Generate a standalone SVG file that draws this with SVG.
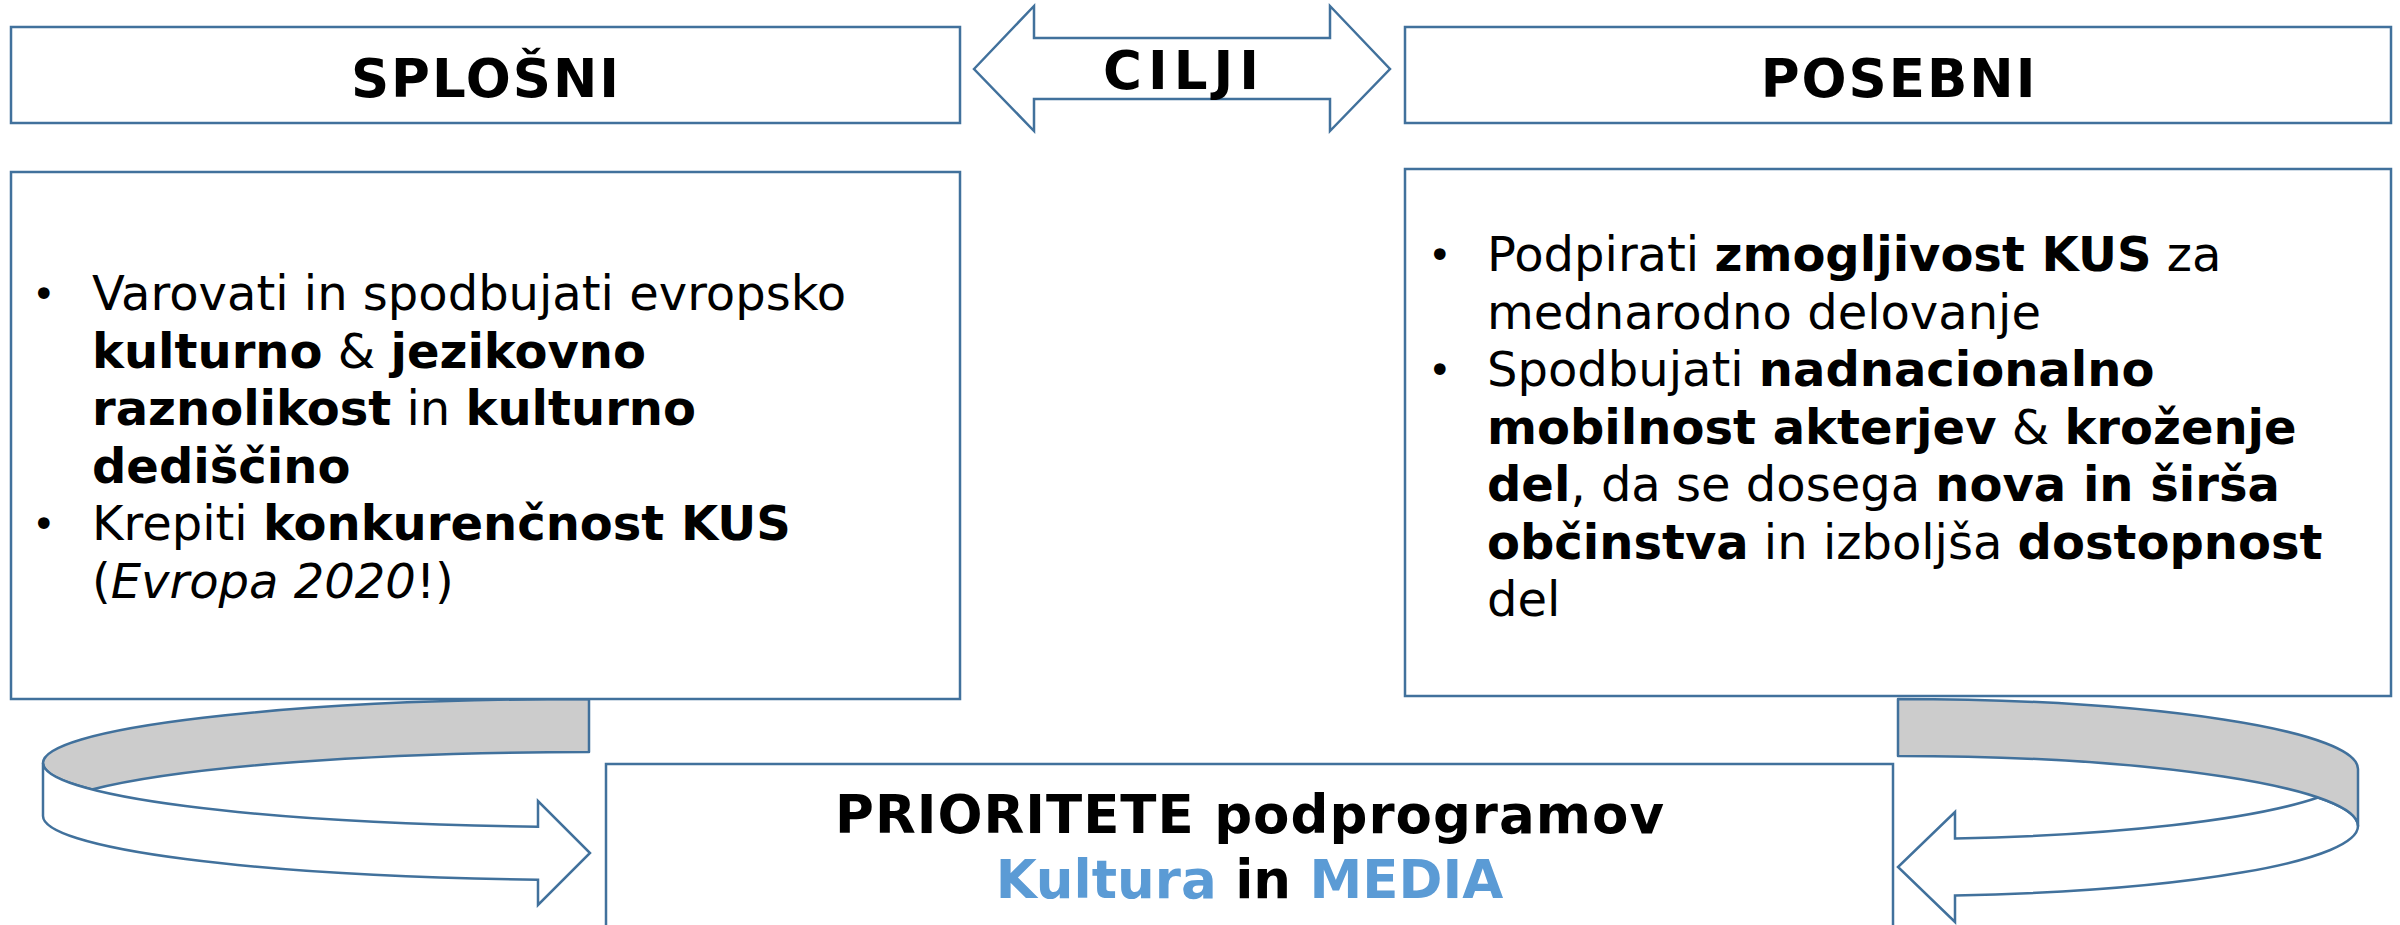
<svg xmlns="http://www.w3.org/2000/svg" width="2400" height="925" viewBox="0 0 2400 925">
<style>
.box{fill:#FFFFFF;stroke:#41719C;stroke-width:2.5}
.band{fill:#CCCCCC;stroke:#41719C;stroke-width:2.5;stroke-linejoin:round}
.front{fill:#FFFFFF;stroke:#41719C;stroke-width:2.5;stroke-linejoin:miter}
.t{font-family:"DejaVu Sans","Verdana",sans-serif;fill:#000000}
.h{font-size:53px;font-weight:bold;text-anchor:middle}
.b{font-size:48px}
.bul{font-size:40px}
.bl{fill:#5B9BD5}
</style>
<rect width="2400" height="925" fill="#FFFFFF"/>
<g id="connectors">
  <g id="loop-left">
    <path class="band" d="M 589,699 A 546 64 0 0 0 43,763 A 546 64 0 0 0 92,789.5 A 546 64 0 0 1 589,752 Z"/>
    <path class="front" d="M 43,763 A 546 64 0 0 0 538,826.7 L 538,801 L 590,853 L 538,905 L 538,879.7 A 546 64 0 0 1 43,816 Z"/>
  </g>
  <g id="loop-right">
    <path class="front" d="M 2318,797.5 A 460 70 0 0 1 1955,838.5 L 1955,812 L 1898,867 L 1955,922 L 1955,895.5 A 460 70 0 0 0 2358,826 A 460 70 0 0 0 2318,797.5 Z"/>
    <path class="band" d="M 1898,699 A 460 70 0 0 1 2358,769 L 2358,826 A 460 70 0 0 0 1898,756 Z"/>
  </g>
</g>
<g id="splosni">
  <rect class="box" x="11" y="27" width="949" height="96"/>
  <text class="t h" x="486" y="97" letter-spacing="2">SPLOŠNI</text>
</g>
<g id="cilji">
  <polygon class="box" points="974,69 1034,6 1034,38 1330,38 1330,6 1390,69 1330,131 1330,99 1034,99 1034,131"/>
  <text class="t h" x="1184" y="89" letter-spacing="6">CILJI</text>
</g>
<g id="posebni">
  <rect class="box" x="1405" y="27" width="986" height="96"/>
  <text class="t h" x="1899" y="97" letter-spacing="2">POSEBNI</text>
</g>
<g id="splosni-content">
  <rect class="box" x="11" y="172" width="949" height="527"/>
  <text class="t bul" x="32" y="308">•</text>
  <text class="t bul" x="32" y="538">•</text>
  <text class="t b" x="92" y="310">Varovati in spodbujati evropsko</text>
  <text class="t b" x="92" y="368"><tspan font-weight="bold">kulturno</tspan> &amp; <tspan font-weight="bold">jezikovno</tspan></text>
  <text class="t b" x="92" y="425"><tspan font-weight="bold">raznolikost</tspan> in <tspan font-weight="bold">kulturno</tspan></text>
  <text class="t b" x="92" y="483"><tspan font-weight="bold">dediščino</tspan></text>
  <text class="t b" x="92" y="540">Krepiti <tspan font-weight="bold">konkurenčnost KUS</tspan></text>
  <text class="t b" x="92" y="598">(<tspan font-style="italic">Evropa 2020</tspan>!)</text>
</g>
<g id="posebni-content">
  <rect class="box" x="1405" y="169" width="986" height="527"/>
  <text class="t bul" x="1428" y="269">•</text>
  <text class="t bul" x="1428" y="384">•</text>
  <text class="t b" x="1487" y="271">Podpirati <tspan font-weight="bold">zmogljivost KUS</tspan> za</text>
  <text class="t b" x="1487" y="329">mednarodno delovanje</text>
  <text class="t b" x="1487" y="386">Spodbujati <tspan font-weight="bold">nadnacionalno</tspan></text>
  <text class="t b" x="1487" y="444"><tspan font-weight="bold">mobilnost akterjev</tspan> &amp; <tspan font-weight="bold">kroženje</tspan></text>
  <text class="t b" x="1487" y="501"><tspan font-weight="bold">del</tspan>, da se dosega <tspan font-weight="bold">nova in širša</tspan></text>
  <text class="t b" x="1487" y="559"><tspan font-weight="bold">občinstva</tspan> in izboljša <tspan font-weight="bold">dostopnost</tspan></text>
  <text class="t b" x="1487" y="616">del</text>
</g>
<g id="prioritete">
  <rect class="box" x="606" y="764" width="1287" height="175"/>
  <text class="t h" x="1250" y="833" letter-spacing="1">PRIORITETE podprogramov</text>
  <text class="t h" x="1249.5" y="898"><tspan class="bl">Kultura</tspan> in <tspan class="bl">MEDIA</tspan></text>
</g>
</svg>
